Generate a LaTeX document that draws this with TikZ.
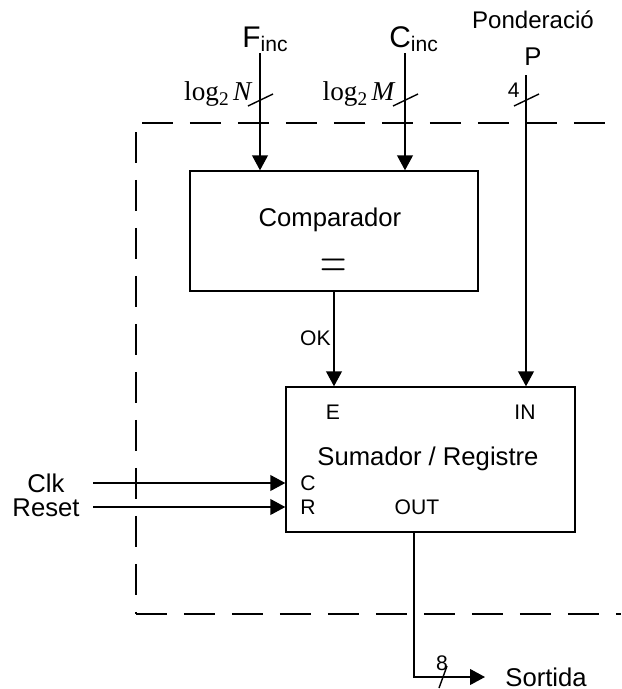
\documentclass[tikz,border=0pt]{standalone}
\usepackage{fontspec}
\setmainfont{Liberation Sans}
\newfontfamily\tnr{Liberation Serif}
\usetikzlibrary{arrows.meta}

\tikzset{
    blk/.style={draw, line width=0.8pt, inner sep=0pt},
    wire/.style={line width=0.8pt},
    arr/.style={line width=0.8pt, -{Triangle[length=8.5pt, width=9pt]}},
    frame/.style={line width=0.8pt, dash pattern=on 17.6pt off 9.7pt},
    lbl/.style={inner sep=0pt, font=\fontsize{14.6}{16}\selectfont},
    pin/.style={inner sep=0pt, font=\fontsize{12}{13}\selectfont},
}

\begin{document}
\begin{tikzpicture}[x=0.2mm, y=-0.2mm]
            \useasboundingbox (0,0) rectangle (621,689);

            % Frame
            \draw[frame] (142,123) -- (621,123);
            \draw[frame] (136,132) -- (136,614);
            \draw[frame] (136,614) -- (621,614);

            % Blocks
            \node[blk, minimum width=57.6mm, minimum height=24mm] (comp) at (334,231) {};
            \node[blk, minimum width=57.8mm, minimum height=29mm] (sumreg) at (430.5,459.5) {};
            \node[lbl] (comptxt) at (330,220) {Comparador};
            \node[inner sep=0pt, font=\fontsize{20}{22}\selectfont] (eq) at (334,269) {\scalebox{1}[1.5]{$=$}};
            \node[lbl] (sumtxt) at (428,459) {Sumador / Registre};
            \node[pin] (pe) at (333,412) {E};
            \node[pin] (pinp) at (525,412) {IN};
            \node[pin] (pc) at (308,483) {C};
            \node[pin] (pr) at (308,507) {R};
            \node[pin] (pout) at (417,507) {OUT};

            % Inputs
            \node[inner sep=0pt, anchor=base west, font=\fontsize{17}{19}\selectfont] (flab) at (242,47)
                {F\raisebox{-2.8pt}{\fontsize{12}{14}\selectfont inc}};
            \node[inner sep=0pt, anchor=base west, font=\fontsize{17}{19}\selectfont] (clab) at (389,47)
                {C\raisebox{-2.8pt}{\fontsize{12}{14}\selectfont inc}};
            \node[lbl, font=\fontsize{13.7}{15}\selectfont] (pond) at (533,20) {Ponderació};
            \node[lbl, anchor=base west] (plab) at (524,65) {P};
            \coordinate (fin) at (260,53);
            \coordinate (cin) at (405,53);
            \coordinate (pn) at (526,75);
            \draw[arr] (fin) -- (fin |- comp.north);
            \draw[arr] (cin) -- (cin |- comp.north);
            \draw[arr] (pn) -- (pn |- sumreg.north);
            \foreach \xs in {260,405,526}
                \draw[wire] (\xs-12,106) -- (\xs+13,94);
            \node[inner sep=0pt, anchor=base east, font=\tnr\fontsize{15.5}{17}\selectfont] (nlab) at (253,100)
                {log\raisebox{-0.45ex}{\fontsize{11}{12}\selectfont 2}\,\textit{N}};
            \node[inner sep=0pt, anchor=base east, font=\tnr\fontsize{15.5}{17}\selectfont] (mlab) at (396,100)
                {log\raisebox{-0.45ex}{\fontsize{11}{12}\selectfont 2}\,\textit{M}};
            \node[pin, anchor=base east] (wp) at (520,97) {4};

            % Comparator to adder
            \draw[arr] (comp.south) -- (comp.south |- sumreg.north);
            \node[pin, anchor=east] (ok) at (331,338) {OK};

            % Clock and reset
            \node[lbl] (clk) at (46,483) {Clk};
            \node[lbl] (rst) at (46,508) {Reset};
            \coordinate (ck) at (93,483);
            \coordinate (rs) at (93,507);
            \draw[arr] (ck) -- (ck -| sumreg.west);
            \draw[arr] (rs) -- (rs -| sumreg.west);

            % Output
            \node[lbl, inner xsep=11.4pt, anchor=west] (sort) at (485,677) {Sortida};
            \coordinate (q) at (414,0);
            \draw[arr] (sumreg.south -| q) |- (sort.west);
            \draw[wire] (439,688) -- (447,666);
            \node[pin] (wo) at (442,663) {8};
\end{tikzpicture}
\end{document}
